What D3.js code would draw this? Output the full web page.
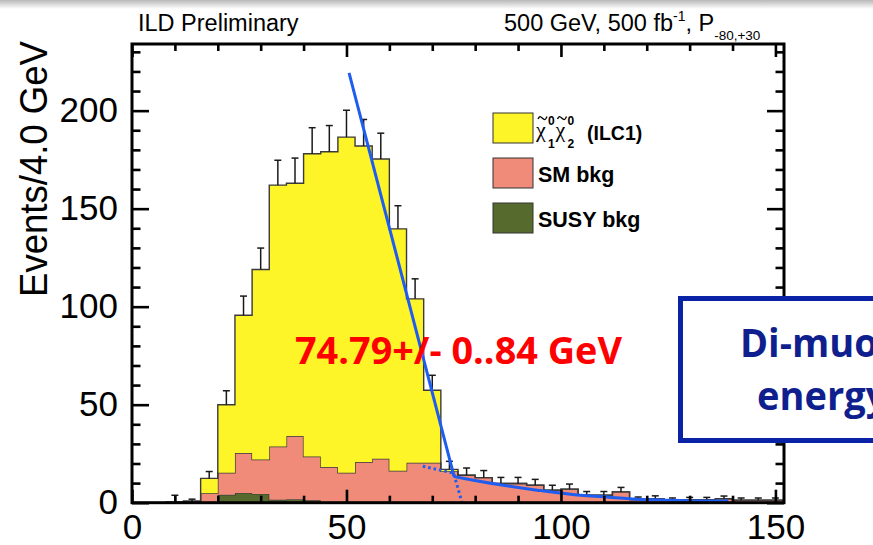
<!DOCTYPE html>
<html>
<head>
<meta charset="utf-8">
<script src="https://cdn.jsdelivr.net/npm/d3@7"></script>
<style>
  body { margin: 0; background: #fff; }
  svg { display: block; font-family: "Liberation Sans", Arial, sans-serif; }
</style>
</head>
<body>
<svg width="873" height="545"></svg>
<script>
// di-muon energy, 4 GeV bins (lower edges)
const binStart = [0, 4, 8, 12, 16, 20, 24, 28, 32, 36, 40, 44, 48, 52, 56, 60, 64, 68, 72, 76,
  80, 84, 88, 92, 96, 100, 104, 108, 112, 116, 120, 124, 128, 132, 136, 140, 144, 148];
const BIN_W = 4;

const susyBkg = [0, 0, 0, 0, 0, 4, 5, 4.5, 1.5, 1.8, 1.2, 0, 0, 0, 0, 0, 0, 0, 0, 0,
  0, 0, 0, 0, 0, 0, 0, 0, 0, 0, 0, 0, 0, 0, 0, 0, 0, 0];
const smBkg = [0, 0, 0.3, 0.8, 4.8, 11.3, 20.3, 17.5, 27.2, 32.2, 22.4, 18.2, 15.3, 20.7, 22.4, 16.3, 20.4, 20.4, 16, 14,
  12.8, 9.8, 9.8, 8.9, 6.4, 6.9, 3.8, 3.8, 5.5, 1.6, 2.1, 1.3, 1.5, 1.5, 2, 1.3, 1.3, 1.3];
const signal = [0, 0, 0, 0, 7.6, 34.7, 70.3, 97, 133.3, 129, 154.4, 160.8, 171.2, 161.3, 152.9, 123.4, 83.6, 37, 1, 0,
  0, 0, 0, 0, 0, 0, 0, 0, 0, 0, 0, 0, 0, 0, 0, 0, 0, 0];
const errUp = [0, 0, 3.5, 1, 3.5, 7.1, 9.8, 10.9, 12.7, 12.8, 13.3, 13.4, 13.7, 13.5, 13.2, 11.8, 10.2, 7.6, 4.1, 3.7,
  3.6, 3.1, 3.1, 3.0, 2.5, 2.6, 1.9, 1.9, 2.3, 1.3, 1.4, 1.1, 1.2, 1.2, 1.4, 1.1, 1.1, 1.1];

// edge fit: straight part + tail, and dotted extensions
const fitEdgeX = [50.6, 75.1];
const fitEdgeY = [219.3, 13.3];
const fitTailX = [75.1, 79.6, 86.6, 94.5, 102.2, 109.9, 117.8, 125.5, 133.2, 139];
const fitTailY = [13.3, 11.5, 8.9, 6.4, 4.3, 3.0, 1.8, 1.3, 0.9, 0.9];
const fitDotX = [67.8, 71.5, 75.0, 76.9];
const fitDotY = [18.6, 16.8, 15.0, 0.3];

const xMajor = [0, 50, 100, 150];
const yMajor = [0, 50, 100, 150, 200];

const keys = ["susy", "sm", "signal"];
const colors = { susy: "#566a2e", sm: "#f08a79", signal: "#fef528" };

const svg = d3.select("svg");

// slide shadow at top
const defs = svg.append("defs");
const grad = defs.append("linearGradient").attr("id", "shade")
  .attr("x1", 0).attr("y1", 0).attr("x2", 0).attr("y2", 1);
grad.append("stop").attr("offset", "0%").attr("stop-color", "#b8b8b8");
grad.append("stop").attr("offset", "100%").attr("stop-color", "#fff");
svg.append("rect").attr("width", 873).attr("height", 9).attr("fill", "url(#shade)");

const x = d3.scaleLinear().domain([0, 152]).range([132, 784]);
const y = d3.scaleLinear().domain([0, 234]).range([502.7, 44]);

const rows = binStart.map((b, i) => ({ b: b, susy: susyBkg[i], sm: smBkg[i], signal: signal[i] }));
const layers = d3.stack().keys(keys)(rows);

const area = d3.area().curve(d3.curveStepAfter)
  .x(d => x(d.b)).y0(d => y(d.lo)).y1(d => y(d.hi));
const step = d3.line().curve(d3.curveStepAfter)
  .x(d => x(d.b)).y(d => y(d.hi));

const hist = svg.append("g");
layers.forEach(layer => {
  const pts = layer.map((d, i) => ({ b: binStart[i], lo: d[0], hi: d[1] }));
  const last = pts[pts.length - 1];
  pts.push({ b: last.b + BIN_W, lo: last.lo, hi: last.hi });
  hist.append("path").attr("d", area(pts)).attr("fill", colors[layer.key]);
  hist.append("path").attr("d", step(pts)).attr("fill", "none")
    .attr("stroke", "#3a3a3a").attr("stroke-width", 1.4);
});

// error bars (upper half)
const totals = rows.map(r => r.susy + r.sm + r.signal);
const eb = svg.append("g").attr("stroke", "#1a1a1a").attr("stroke-width", 1.5);
binStart.forEach((b, i) => {
  if (errUp[i] <= 0) return;
  const cx = x(b + BIN_W / 2);
  const top = y(totals[i] + errUp[i]);
  eb.append("line").attr("x1", cx).attr("x2", cx).attr("y1", y(totals[i])).attr("y2", top);
  eb.append("line").attr("x1", cx - 3.5).attr("x2", cx + 3.5).attr("y1", top).attr("y2", top);
});

// fit
const fitLine = d3.line().x(d => x(d[0])).y(d => y(d[1]));
const fitCurve = d3.line().curve(d3.curveMonotoneX).x(d => x(d[0])).y(d => y(d[1]));
svg.append("path").attr("d", fitLine(d3.zip(fitDotX, fitDotY)))
  .attr("fill", "none").attr("stroke", "#1f5cf0").attr("stroke-width", 3).attr("stroke-dasharray", "2.5,3");
svg.append("path").attr("d", fitLine(d3.zip(fitEdgeX, fitEdgeY)))
  .attr("fill", "none").attr("stroke", "#1f5cf0").attr("stroke-width", 3);
svg.append("path").attr("d", fitCurve(d3.zip(fitTailX, fitTailY)))
  .attr("fill", "none").attr("stroke", "#1f5cf0").attr("stroke-width", 3);

// axes (ticks pointing inwards)
function styleAxis(g) {
  g.select(".domain").remove();
  g.attr("font-family", null);
  g.selectAll("line").attr("stroke", "#000").attr("stroke-width", 2.6);
  g.selectAll("text").attr("font-size", 35).attr("fill", "#000");
}
const xMinor = d3.range(0, 153, 10).filter(v => !xMajor.includes(v));
const yMinor = d3.range(0, 231, 10).filter(v => !yMajor.includes(v));

svg.append("g").attr("transform", "translate(0,502.7)")
  .call(d3.axisBottom(x).tickValues(xMajor).tickSize(-13).tickPadding(11).tickFormat(d3.format("d"))).call(styleAxis);
svg.append("g").attr("transform", "translate(0,502.7)")
  .call(d3.axisBottom(x).tickValues(xMinor).tickSize(-7).tickFormat("")).call(styleAxis);
svg.append("g").attr("transform", "translate(0,44)")
  .call(d3.axisTop(x).tickValues(xMajor).tickSize(-13).tickFormat("")).call(styleAxis);
svg.append("g").attr("transform", "translate(0,44)")
  .call(d3.axisTop(x).tickValues(xMinor).tickSize(-7).tickFormat("")).call(styleAxis);
svg.append("g").attr("transform", "translate(132,0)")
  .call(d3.axisLeft(y).tickValues(yMajor).tickSize(-17).tickPadding(14).tickFormat(d3.format("d"))).call(styleAxis);
svg.append("g").attr("transform", "translate(132,0)")
  .call(d3.axisLeft(y).tickValues(yMinor).tickSize(-8.5).tickFormat("")).call(styleAxis);
svg.append("g").attr("transform", "translate(784,0)")
  .call(d3.axisRight(y).tickValues(yMajor).tickSize(-17).tickFormat("")).call(styleAxis);
svg.append("g").attr("transform", "translate(784,0)")
  .call(d3.axisRight(y).tickValues(yMinor).tickSize(-8.5).tickFormat("")).call(styleAxis);

svg.append("rect").attr("x", 132).attr("y", 44).attr("width", 652).attr("height", 458.7)
  .attr("fill", "none").attr("stroke", "#000").attr("stroke-width", 3);

// y title
svg.append("text").attr("transform", "translate(47,169) rotate(-90)")
  .attr("text-anchor", "middle").attr("font-size", 38)
  .attr("textLength", 256).attr("lengthAdjust", "spacingAndGlyphs")
  .text("Events/4.0 GeV");

// header
svg.append("text").attr("x", 138).attr("y", 31).attr("font-size", 23.5).text("ILD Preliminary");
const hdr = svg.append("text").attr("x", 504).attr("y", 31).attr("font-size", 23.5);
hdr.append("tspan").text("500 GeV, 500 fb");
hdr.append("tspan").attr("font-size", 14).attr("dy", -10).text("-1");
hdr.append("tspan").attr("dy", 10).text(", P");
hdr.append("tspan").attr("font-size", 13.5).attr("dy", 9).text("-80,+30");

// legend
const legend = svg.append("g");
const legItems = [
  { key: "signal", y: 113 },
  { key: "sm", y: 158, label: "SM bkg" },
  { key: "susy", y: 203, label: "SUSY bkg" }
];
legItems.forEach(it => {
  legend.append("rect").attr("x", 493).attr("y", it.y).attr("width", 40).attr("height", 30)
    .attr("fill", colors[it.key]).attr("stroke", "#333").attr("stroke-width", 1);
  if (it.label) {
    legend.append("text").attr("x", 538).attr("y", it.y + 24).attr("font-size", 21.5)
      .attr("font-weight", "bold").text(it.label);
  }
});
// chi~0_1 chi~0_2 symbol
const tilde = d3.line().curve(d3.curveBasis);
[{ x: 536, sub: "1" }, { x: 555.5, sub: "2" }].forEach(c => {
  legend.append("text").attr("x", c.x).attr("y", 137).attr("font-size", 22)
    .style("font-family", "'Liberation Serif', serif").text("\u03c7");
  legend.append("path")
    .attr("d", tilde([[c.x + 2, 119], [c.x + 4, 115.5], [c.x + 6.5, 118.5], [c.x + 9, 120.5], [c.x + 11, 116.5]]))
    .attr("fill", "none").attr("stroke", "#000").attr("stroke-width", 1.3);
  legend.append("text").attr("x", c.x + 12).attr("y", 125).attr("font-size", 12).attr("font-weight", "bold").text("0");
  legend.append("text").attr("x", c.x + 12).attr("y", 148).attr("font-size", 12).attr("font-weight", "bold").text(c.sub);
});
legend.append("text").attr("x", 587).attr("y", 140).attr("font-size", 19.5).attr("font-weight", "bold").text("(ILC1)");

// overlay box
svg.append("rect").attr("x", 680.5).attr("y", 298.5).attr("width", 260).attr("height", 142)
  .attr("fill", "#fff").attr("stroke", "#0a22a6").attr("stroke-width", 5);
const boxTxt = svg.append("g").attr("transform", "translate(740,0) scale(0.95,1)")
  .attr("fill", "#0f1f8e").attr("font-weight", "bold").attr("font-size", 40)
  .style("font-family", "'Open Sans', sans-serif");
boxTxt.append("text").attr("x", 0).attr("y", 357).text("Di-muon");
boxTxt.append("text").attr("x", 18).attr("y", 410).text("energy");

// fit result
svg.append("text").attr("x", 295).attr("y", 364).style("font-family", "'Open Sans', sans-serif")
  .attr("font-weight", "bold").attr("font-size", 37).attr("fill", "#ff0000")
  .attr("textLength", 327).attr("lengthAdjust", "spacingAndGlyphs")
  .text("74.79+/- 0..84 GeV");
</script>
</body>
</html>
